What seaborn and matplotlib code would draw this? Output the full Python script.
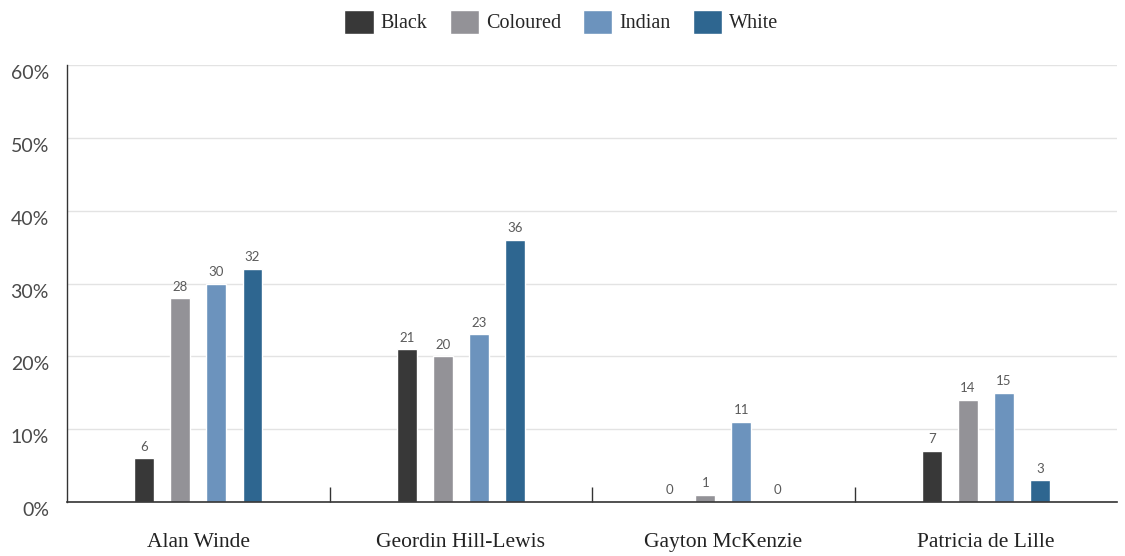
import matplotlib
matplotlib.use("Agg")
import matplotlib.pyplot as plt
import matplotlib.transforms as mtransforms
from matplotlib.patches import Patch
import seaborn as sn
import pandas as pd

candidates = ["Alan Winde", "Geordin Hill-Lewis", "Gayton McKenzie", "Patricia de Lille"]
groups = ["Black", "Coloured", "Indian", "White"]
black = [6, 21, 0, 7]
coloured = [28, 20, 1, 14]
indian = [30, 23, 11, 15]
white = [32, 36, 0, 3]
colors = ["#383838", "#939297", "#6c93bd", "#2e6690"]

rows = []
for g, vals in zip(groups, [black, coloured, indian, white]):
    for c, v in zip(candidates, vals):
        rows.append({"Candidate": c, "Group": g, "Value": v})
df = pd.DataFrame(rows)

sn.set_style("white")
serif = ["Liberation Serif", "DejaVu Serif"]
sans = ["Lato", "DejaVu Sans"]

fig = plt.figure(figsize=(11.25, 5.56), dpi=100)
ax = fig.add_axes([0.0596, 0.0971, 0.9334, 0.786])

palette = dict(zip(groups, colors))
sn.barplot(data=df, x="Candidate", y="Value", hue="Group", order=candidates,
           hue_order=groups, palette=palette, width=0.55, gap=0.45,
           saturation=1, ax=ax, legend=False)

# value labels
for cont in ax.containers:
    ax.bar_label(cont, labels=[f"{int(b.get_height())}" for b in cont],
                 padding=4, fontsize=9.5, color="#5a5a5a", family=sans)

ax.set_ylim(0, 60)
ax.set_xlim(-0.5, 3.5)
ax.set_yticks(range(0, 61, 10))
ax.set_yticklabels([f"{v}%" for v in range(0, 61, 10)])
ax.yaxis.grid(True, color="#e3e3e3", linewidth=1)
ax.set_axisbelow(True)
ax.tick_params(axis="y", length=0, pad=13, labelsize=14, labelcolor="#4a4a4a")
for lab in ax.get_yticklabels():
    lab.set_family(sans)
    lab.set_transform(lab.get_transform() + mtransforms.ScaledTranslation(0, -7 / 100, fig.dpi_scale_trans))

ax.set_xticks(range(len(candidates)))
ax.set_xticklabels(candidates, family=serif, fontsize=15.5, color="#222222")
ax.set_xticks([0.5, 1.5, 2.5], minor=True)
ax.tick_params(axis="x", which="major", length=0, pad=22)
ax.tick_params(axis="x", which="minor", length=11, width=1, direction="in", color="#333333", bottom=True)

ax.set_xlabel("")
ax.set_ylabel("")
for side in ["top", "right"]:
    ax.spines[side].set_visible(False)
ax.spines["left"].set_color("#333333")
ax.spines["bottom"].set_color("#333333")
ax.spines["left"].set_linewidth(1)
ax.spines["bottom"].set_linewidth(1.2)

handles = [Patch(facecolor=c, label=g) for g, c in zip(groups, colors)]
fig.legend(handles=handles, loc="upper center", bbox_to_anchor=(0.499, 1.015), ncol=4,
           frameon=False, prop={"family": serif, "size": 14.5}, handlelength=1.45,
           handleheight=1.45, handletextpad=0.35, columnspacing=1.1)

fig.savefig("out.png", dpi=100)
